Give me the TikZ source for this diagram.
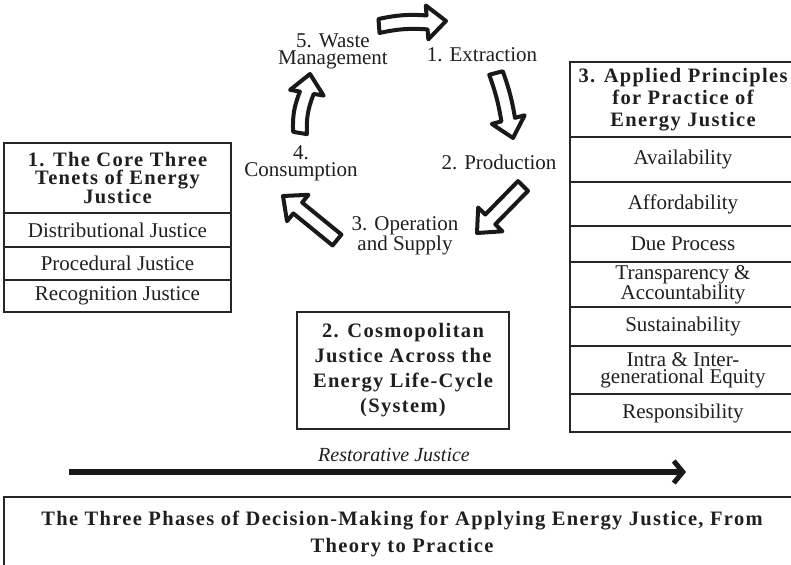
\documentclass[tikz,border=0pt]{standalone}
\usepackage{fontspec}
\setmainfont{Liberation Serif}
\newfontfamily\spacedfont[LetterSpace=6.5]{Liberation Serif}
\usetikzlibrary{calc,arrows.meta}
\newcommand{\arrW}{7pt}
\newcommand{\arrH}{17pt}
\newcommand{\arrL}{19pt}
\newcommand{\blockarr}[3]{%
  \coordinate (#1#2c) at ($(#2)!\arrL!(#1)$);
  \draw[blockarrow]
    ($(#1)!\arrW!90:(#2)$) to[bend left=#3]
    ($(#1#2c)!\arrW!-90:(#1)$) --
    ($(#1#2c)!\arrH!-90:(#1)$) --
    (#2) --
    ($(#1#2c)!\arrH!90:(#1)$) --
    ($(#1#2c)!\arrW!90:(#1)$) to[bend right=#3]
    ($(#1)!\arrW!-90:(#2)$) -- cycle;
}
\tikzset{
  body/.style={font=\fontsize{21}{17}\selectfont, text=black!88},
  cell/.style={draw=black!85, line width=1.2pt, align=center, inner sep=0pt, font=\fontsize{21}{17}\selectfont, text=black!88},
  headL/.style={font=\spacedfont\bfseries\fontsize{20.5}{18}\selectfont},
  headR/.style={font=\spacedfont\bfseries\fontsize{20.5}{22}\selectfont},
  headC/.style={font=\spacedfont\bfseries\fontsize{20.5}{25}\selectfont},
  blockarrow/.style={draw=black!90, line width=4pt, fill=white, line join=round},
  bigarrow/.style={draw=black!90, line width=6pt, -{Straight Barb[length=9pt,width=22pt,line width=5pt]}},
}
\begin{document}
\begin{tikzpicture}[x=1pt,y=-1pt]
\useasboundingbox (0,0) rectangle (791,564);

% left table
\node[cell, headL, minimum width=227pt, minimum height=70pt] (L0) at (117.5,178) {1. The Core Three\\Tenets of Energy\\Justice};
\node[cell, minimum width=227pt, minimum height=34pt] (L1) at (117.5,230) {Distributional Justice};
\node[cell, minimum width=227pt, minimum height=33pt] (L2) at (117.5,263.5) {Procedural Justice};
\node[cell, minimum width=227pt, minimum height=32pt] (L3) at (117.5,296) {Recognition Justice};

% right table
\node[cell, headR, minimum width=226pt, minimum height=75pt] (R0) at (683,99.5) {3. Applied Principles\\for Practice of\\Energy Justice};
\node[cell, minimum width=226pt, minimum height=45pt] (R1) at (683,159.5) {Availability};
\node[cell, minimum width=226pt, minimum height=44pt] (R2) at (683,204) {Affordability};
\node[cell, minimum width=226pt, minimum height=36pt] (R3) at (683,244) {Due Process};
\node[cell, minimum width=226pt, minimum height=45pt] (R4) at (683,284.5) {Transparency \&\\Accountability};
\node[cell, minimum width=226pt, minimum height=39pt] (R5) at (683,326.5) {Sustainability};
\node[cell, minimum width=226pt, minimum height=48pt] (R6) at (683,370) {Intra \& Inter-\\generational Equity};
\node[cell, minimum width=226pt, minimum height=38pt] (R7) at (683,413) {Responsibility};

% centre box
\node[cell, headC, minimum width=212pt, minimum height=117pt] (C0) at (403,370.5) {2. Cosmopolitan\\Justice Across the\\Energy Life-Cycle\\(System)};

% cycle labels
\node[body, align=center] (s1) at (482,55) {1. Extraction};
\node[body, align=center] (s2) at (499,162) {2. Production};
\node[body, align=center] (s3) at (405,236) {3. Operation\\and Supply};
\node[body, align=center] (s4) at (301,163) {4.\\Consumption};
\node[body, align=center] (s5) at (333,51) {5. Waste\\Management};

% cycle arrows
\coordinate (a1s) at (379,26);  \coordinate (a1e) at (446,21);
\coordinate (a2s) at (496,73);  \coordinate (a2e) at (513,138);
\coordinate (a3s) at (523,186); \coordinate (a3e) at (477,233);
\coordinate (a4s) at (337,240); \coordinate (a4e) at (283,196);
\coordinate (a5s) at (300,133); \coordinate (a5e) at (310,74);
\blockarr{a1s}{a1e}{8}
\blockarr{a2s}{a2e}{5}
\blockarr{a3s}{a3e}{0}
\blockarr{a4s}{a4e}{0}
\blockarr{a5s}{a5e}{12}

% restorative justice arrow
\node[font=\itshape\fontsize{20}{20}\selectfont, text=black!88] (rj) at (394,455) {Restorative Justice};
\coordinate (rjs) at (69,472);
\coordinate (rje) at (686,472);
\draw[bigarrow] (rjs) -- (rje);

% bottom box
\draw[draw=black!85, line width=1.2pt] (4,497) rectangle (800,566);
\node[align=center, font=\spacedfont\bfseries\fontsize{20.5}{27}\selectfont, text=black!88] (bt) at (402,533.5) {The Three Phases of Decision-Making for Applying Energy Justice, From\\Theory to Practice};
\end{tikzpicture}
\end{document}
